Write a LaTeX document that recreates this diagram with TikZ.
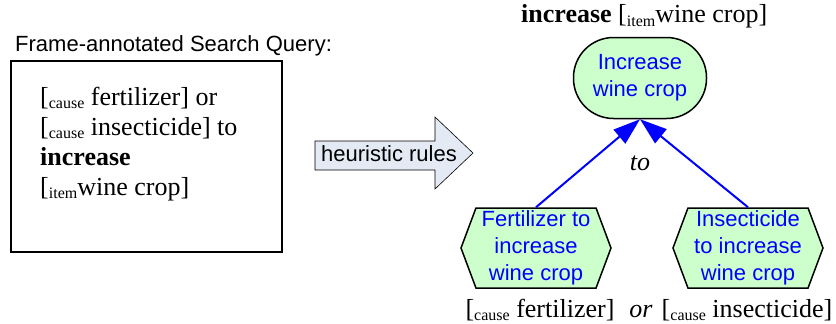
\documentclass[tikz,border=0pt]{standalone}
\usepackage{fontspec}
\setmainfont{Liberation Serif}
\newfontfamily\arialfont{Liberation Sans}
\usetikzlibrary{shapes.symbols,arrows.meta}

\definecolor{nodegreen}{HTML}{CCFFCC}
\definecolor{arrowgray}{HTML}{E4EAF4}

% small frame element tag, set lower than the text
\newcommand{\frmtag}[1]{\raisebox{-3pt}{\fontsize{16}{16}\selectfont #1}}

\begin{document}
\begin{tikzpicture}[x=1pt,y=-1pt,
  serif/.style={font=\fontsize{26}{30}\selectfont, inner sep=0},
  sans/.style={font=\arialfont\fontsize{22}{27}\selectfont, inner sep=0},
  goalnode/.style={sans, draw, line width=1.5, fill=nodegreen, text=blue, align=center,
    rectangle, rounded corners=40, minimum width=133, minimum height=81},
  subgoal/.style={sans, draw, line width=1.5, fill=nodegreen, text=blue, align=center,
    signal, signal to=west and east, signal pointer angle=139,
    minimum width=150, minimum height=80},
  link/.style={blue, line width=2, -{Triangle[length=27pt,width=18pt]}}]

\useasboundingbox (0,0) rectangle (836,324);

% Left: the annotated query
\node [sans, anchor=base west] (qtitle) at (15,51) {Frame-annotated Search Query:};
\draw [line width=1.5] (11,61) rectangle (282,252);
\node [serif, anchor=north west, align=left] (query) at (40,87)
  {{[}\frmtag{cause} fertilizer] or\\
   {[}\frmtag{cause} insecticide] to\\
   \textbf{increase}\\
   {[}\frmtag{item}wine crop]};

% Block arrow in the middle
\draw [line width=0.6, fill=arrowgray] (315,141) -- (435,141) -- (435,117) -- (473,153)
  -- (435,189) -- (435,170) -- (315,170) -- cycle;
\node [sans, anchor=base] (rules) at (389,161) {heuristic rules};

% Right: the goal tree
\node [serif, anchor=base west] (goallabel) at (521,23) {\textbf{increase} [\frmtag{item}wine crop]};
\node [goalnode] (goal) at (640,78) {Increase\\wine crop};

\node [subgoal] (fert) at (536,248) {Fertilizer to\\increase\\wine crop};
\node [subgoal] (insect) at (748,248) {Insecticide\\to increase\\wine crop};

\draw [link] (fert.north) -- (goal.south);
\draw [link] (insect.north) -- (goal.south);
\node [serif] (to) at (640,163) {\textit{to}};

\node [serif, anchor=base] (fertlab) at (540,317) {[\frmtag{cause} fertilizer]};
\node [serif, anchor=base] (or) at (641,317) {\textit{or}};
\node [serif, anchor=base] (insectlab) at (747,317) {[\frmtag{cause} insecticide]};

\end{tikzpicture}
\end{document}
